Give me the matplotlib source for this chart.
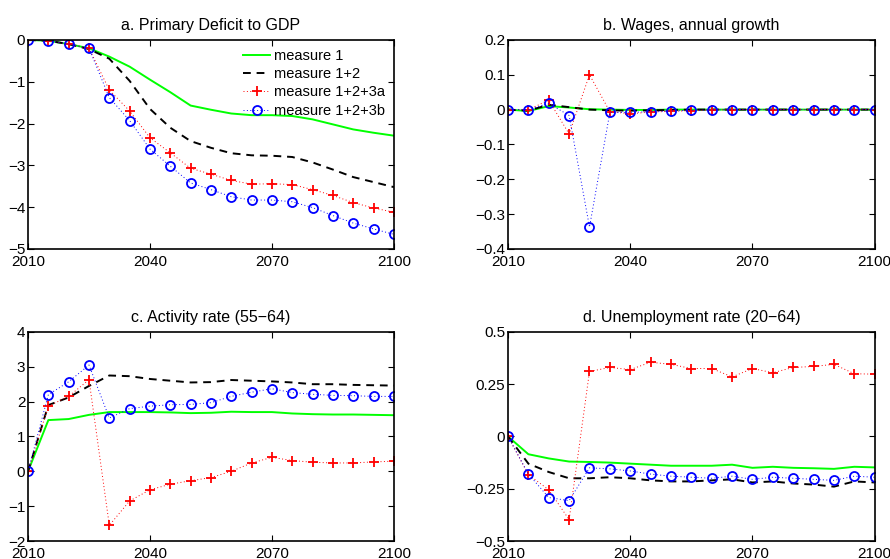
import numpy as np
import matplotlib
matplotlib.use("Agg")
import matplotlib.pyplot as plt

plt.rcParams['font.family'] = ['Liberation Sans', 'DejaVu Sans']
plt.rcParams['font.size'] = 11
plt.rcParams['axes.linewidth'] = 1.2

years = np.arange(2010, 2101, 5)

# a. primary deficit to GDP
deficit_m1 = [0, -0.02, -0.10, -0.20, -0.40, -0.64, -0.95, -1.25, -1.57, -1.67,
              -1.76, -1.80, -1.80, -1.82, -1.90, -2.02, -2.14, -2.22, -2.29]
deficit_m12 = [0, -0.02, -0.10, -0.22, -0.45, -0.98, -1.65, -2.10, -2.42, -2.58,
               -2.71, -2.76, -2.77, -2.80, -2.93, -3.10, -3.28, -3.40, -3.52]
deficit_m3a = [0, -0.02, -0.10, -0.20, -1.20, -1.70, -2.34, -2.70, -3.07, -3.21,
               -3.36, -3.45, -3.44, -3.46, -3.58, -3.72, -3.89, -4.02, -4.12]
deficit_m3b = [0, -0.02, -0.10, -0.20, -1.38, -1.93, -2.61, -3.02, -3.42, -3.58,
               -3.75, -3.83, -3.83, -3.87, -4.01, -4.20, -4.38, -4.52, -4.65]

# b. wages, annual growth
wages_m1 = [0, -0.004, 0.010, 0.006, 0.001, 0.0, -0.001, -0.001, 0.0, 0.0,
            0.0, 0.0, 0.0, 0.0, 0.0, 0.0, 0.0, 0.0, 0.0]
wages_m12 = [0, -0.003, 0.014, 0.007, 0.0, -0.002, -0.003, -0.002, -0.001, 0.0,
             0.0, 0.0, 0.0, 0.0, 0.0, 0.0, 0.0, 0.0, 0.0]
wages_m3a = [0, 0.0, 0.027, -0.070, 0.100, -0.006, -0.012, -0.007, -0.005, -0.003,
             -0.001, 0.0, 0.0, 0.0, 0.0, 0.0, 0.0, 0.0, 0.0]
wages_m3b = [0, 0.0, 0.018, -0.017, -0.337, -0.008, -0.008, -0.006, -0.004, -0.002,
             -0.001, 0.0, 0.0, 0.0, 0.0, 0.0, 0.0, 0.0, 0.0]

# c. activity rate (55-64)
activity_m1 = [0, 1.47, 1.50, 1.62, 1.70, 1.70, 1.70, 1.69, 1.67, 1.68,
               1.71, 1.70, 1.70, 1.66, 1.64, 1.63, 1.63, 1.62, 1.61]
activity_m12 = [0, 1.90, 2.12, 2.45, 2.75, 2.73, 2.65, 2.60, 2.55, 2.56,
                2.62, 2.60, 2.58, 2.55, 2.50, 2.50, 2.48, 2.47, 2.46]
activity_m3a = [0, 1.87, 2.15, 2.63, -1.55, -0.85, -0.53, -0.37, -0.27, -0.18,
                0.0, 0.24, 0.40, 0.31, 0.26, 0.24, 0.24, 0.27, 0.29]
activity_m3b = [0, 2.20, 2.57, 3.05, 1.53, 1.80, 1.87, 1.91, 1.92, 1.97,
                2.15, 2.27, 2.37, 2.26, 2.21, 2.18, 2.17, 2.15, 2.15]

# d. unemployment rate (20-64)
unemp_m1 = [0, -0.085, -0.105, -0.120, -0.122, -0.125, -0.130, -0.135, -0.140, -0.140,
            -0.140, -0.135, -0.150, -0.145, -0.150, -0.152, -0.155, -0.145, -0.148]
unemp_m12 = [0, -0.130, -0.170, -0.200, -0.200, -0.195, -0.200, -0.210, -0.215, -0.215,
             -0.210, -0.205, -0.220, -0.215, -0.225, -0.230, -0.240, -0.215, -0.220]
unemp_m3a = [0, -0.183, -0.255, -0.398, 0.311, 0.330, 0.320, 0.355, 0.345, 0.325,
             0.325, 0.285, 0.325, 0.305, 0.330, 0.335, 0.345, 0.300, 0.298]
unemp_m3b = [0, -0.180, -0.292, -0.307, -0.150, -0.155, -0.165, -0.180, -0.190, -0.195,
             -0.200, -0.190, -0.205, -0.195, -0.200, -0.205, -0.210, -0.190, -0.195]

labels = ['measure 1', 'measure 1+2', 'measure 1+2+3a', 'measure 1+2+3b']
xticks = [2010, 2040, 2070, 2100]

panels = [
    ('a. Primary Deficit to GDP', [deficit_m1, deficit_m12, deficit_m3a, deficit_m3b],
     (-5, 0), [-5, -4, -3, -2, -1, 0], ['−5', '−4', '−3', '−2', '−1', '0']),
    ('b. Wages, annual growth', [wages_m1, wages_m12, wages_m3a, wages_m3b],
     (-0.4, 0.2), [-0.4, -0.3, -0.2, -0.1, 0, 0.1, 0.2],
     ['−0.4', '−0.3', '−0.2', '−0.1', '0', '0.1', '0.2']),
    ('c. Activity rate (55−64)', [activity_m1, activity_m12, activity_m3a, activity_m3b],
     (-2, 4), [-2, -1, 0, 1, 2, 3, 4], ['−2', '−1', '0', '1', '2', '3', '4']),
    ('d. Unemployment rate (20−64)', [unemp_m1, unemp_m12, unemp_m3a, unemp_m3b],
     (-0.5, 0.5), [-0.5, -0.25, 0, 0.25, 0.5], ['−0.5', '−0.25', '0', '0.25', '0.5']),
]

# axes boxes in figure fractions: left, bottom, width, height
boxes = [
    (0.0315, 0.5546, 0.411, 0.374),
    (0.5708, 0.5546, 0.412, 0.374),
    (0.0315, 0.0322, 0.411, 0.374),
    (0.5708, 0.0322, 0.412, 0.374),
]

fig = plt.figure(figsize=(8.9, 5.59), dpi=100)

for (title, series, ylim, yticks, yticklabels), box in zip(panels, boxes):
    ax = fig.add_axes(box)
    m1, m12, m3a, m3b = series
    ax.plot(years, m1, color='#00ff00', lw=1.4, label=labels[0])
    ax.plot(years, m12, color='black', lw=1.4, ls=(0, (4, 3)), label=labels[1])
    ax.plot(years, m3a, color='red', lw=0.7, ls=(0, (1, 2.5)), marker='+', ms=7,
            mew=1.3, label=labels[2])
    ax.plot(years, m3b, color='blue', lw=0.7, ls=(0, (1, 2.5)), marker='o', ms=6.5,
            mew=1.3, mfc='none', label=labels[3])
    ax.set_xlim(2010, 2100)
    ax.set_ylim(*ylim)
    ax.set_xticks(xticks)
    ax.set_yticks(yticks)
    ax.set_yticklabels(yticklabels)
    ax.tick_params(direction='in', top=True, right=True, length=4, width=0.8,
                   labelsize=11, pad=2)
    ax.tick_params(axis='x', pad=4)
    ax.set_title(title, fontsize=11.5, pad=7)
    if title.startswith('a.'):
        ax.legend(loc='upper right', frameon=False, fontsize=10.5, handlelength=1.85,
                  handletextpad=0.27, labelspacing=0.3, borderaxespad=0.3,
                  borderpad=0.3)

fig.savefig('out.png', dpi=100)
